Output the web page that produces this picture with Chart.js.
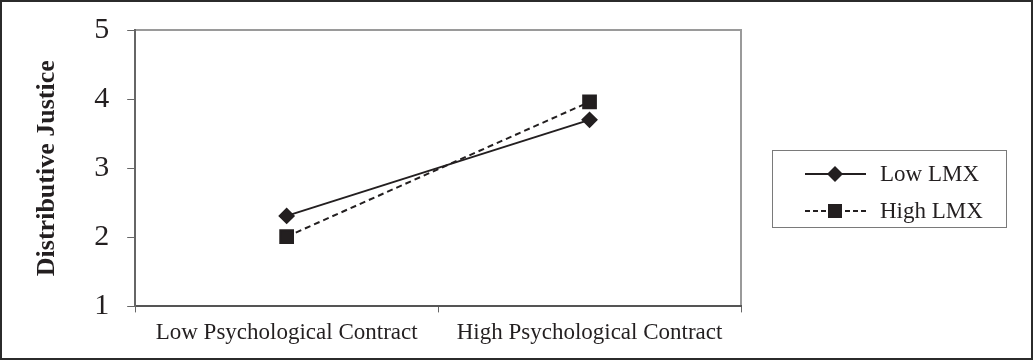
<!DOCTYPE html>
<html>
<head>
<meta charset="utf-8">
<script src="https://cdn.jsdelivr.net/npm/chart.js@4"></script>
<style>
  body { margin: 0; background: #fff; }
  #wrap { width: 1033px; height: 360px; position: relative; }
</style>
</head>
<body>
<div id="wrap"><canvas id="chart"></canvas></div>
<script>
// data
const categories = ['Low Psychological Contract', 'High Psychological Contract'];
const lowLmx = [2.31, 3.70];
const highLmx = [2.01, 3.96];
const seriesNames = ['Low LMX', 'High LMX'];
const yTicks = [1, 2, 3, 4, 5];

const ink = '#231f20';
const serif = '"Liberation Serif", "Times New Roman", serif';

// outer frame + grey box round the plot
const framePlugin = {
    id: 'frame',
    beforeDraw(chart) {
        const c = chart.ctx;
        c.save();
        c.fillStyle = '#fff';
        c.fillRect(0, 0, chart.width, chart.height);
        c.strokeStyle = '#2b2b2b';
        c.lineWidth = 2;
        c.strokeRect(1, 1, chart.width - 2, chart.height - 2);
        const a = chart.chartArea;
        c.strokeStyle = '#9a9a9a';
        c.lineWidth = 2;
        c.beginPath();
        c.moveTo(a.left, a.top);
        c.lineTo(a.right, a.top);
        c.lineTo(a.right, a.bottom);
        c.stroke();
        c.restore();
    }
};

// legend with line + marker sample, like the original
const boxLegend = {
    id: 'boxLegend',
    afterDraw(chart) {
        const c = chart.ctx;
        const x = 772, y = 150, w = 234, h = 77;
        c.save();
        c.strokeStyle = '#7a7a7a';
        c.lineWidth = 1;
        c.strokeRect(x + 0.5, y + 0.5, w, h);
        chart.data.datasets.forEach((ds, i) => {
            const ly = y + 24 + i * 37;
            c.strokeStyle = ink;
            c.lineWidth = 2;
            c.setLineDash(ds.borderDash ? [5, 3] : []);
            c.beginPath();
            c.moveTo(805, ly);
            c.lineTo(866, ly);
            c.stroke();
            c.setLineDash([]);
            c.fillStyle = ink;
            if (ds.pointStyle === 'rectRot') {
                const r = 8;
                c.beginPath();
                c.moveTo(835, ly - r);
                c.lineTo(835 + r, ly);
                c.lineTo(835, ly + r);
                c.lineTo(835 - r, ly);
                c.closePath();
                c.fill();
            } else {
                c.fillRect(835 - 7, ly - 7, 14, 14);
            }
            c.font = '23px ' + serif;
            c.textBaseline = 'middle';
            c.fillText(ds.label, 880, ly + 1);
        });
        c.restore();
    }
};

new Chart(document.getElementById('chart'), {
    type: 'line',
    data: {
        labels: categories,
        datasets: [
            {
                label: seriesNames[0],
                data: lowLmx,
                borderColor: ink,
                backgroundColor: ink,
                borderWidth: 2,
                pointStyle: 'rectRot',
                pointRadius: 7,
                pointHoverRadius: 7,
                tension: 0
            },
            {
                label: seriesNames[1],
                data: highLmx,
                borderColor: ink,
                backgroundColor: ink,
                borderWidth: 2,
                borderDash: [6, 4],
                pointStyle: 'rect',
                pointRadius: 9,
                pointHoverRadius: 9,
                tension: 0
            }
        ]
    },
    options: {
        responsive: true,
        maintainAspectRatio: false,
        animation: false,
        layout: { padding: { top: 29, right: 292, bottom: 6, left: 32 } },
        plugins: {
            legend: { display: false },
            tooltip: { enabled: false }
        },
        scales: {
            x: {
                offset: true,
                grid: {
                    offset: true,
                    drawOnChartArea: false,
                    drawTicks: true,
                    tickLength: 6,
                    color: '#666'
                },
                border: { color: '#555', width: 2 },
                ticks: {
                    color: ink,
                    font: { family: serif, size: 23 },
                    padding: 7,
                    maxRotation: 0
                }
            },
            y: {
                min: 1,
                max: 5,
                afterBuildTicks(scale) {
                    scale.ticks = yTicks.map(v => ({ value: v }));
                },
                grid: {
                    drawOnChartArea: false,
                    drawTicks: true,
                    tickLength: 8,
                    color: '#666'
                },
                border: { color: '#666', width: 2 },
                ticks: {
                    color: ink,
                    font: { family: serif, size: 30, lineHeight: 0.8 },
                    padding: 18
                },
                title: {
                    display: true,
                    text: 'Distributive Justice',
                    color: ink,
                    font: { family: serif, size: 26, weight: 'bold' },
                    padding: { top: 0, bottom: 13 }
                }
            }
        }
    },
    plugins: [framePlugin, boxLegend]
});
</script>
</body>
</html>
